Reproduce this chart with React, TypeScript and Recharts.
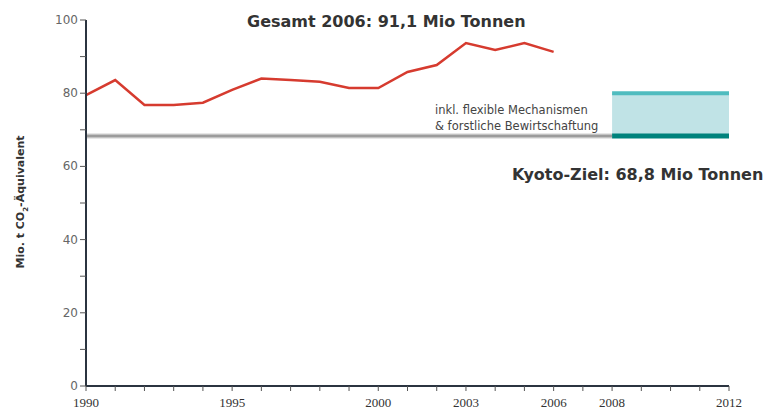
import React from 'react';
import { ComposedChart, Line, XAxis, YAxis, ReferenceLine, ReferenceArea } from 'recharts';

// Treibhausgas-Emissionen in Mio. t CO2-Äquivalent
const years = [1990, 1991, 1992, 1993, 1994, 1995, 1996, 1997, 1998, 1999, 2000, 2001, 2002, 2003, 2004, 2005, 2006];
const emissions = [79.5, 83.6, 76.8, 76.8, 77.4, 80.9, 84.0, 83.6, 83.1, 81.4, 81.4, 85.8, 87.7, 93.7, 91.8, 93.7, 91.3];

const yearTicks = [1990, 1991, 1992, 1993, 1994, 1995, 1996, 1997, 1998, 1999, 2000, 2001, 2002, 2003, 2004, 2005, 2006, 2007, 2008, 2009, 2010, 2011, 2012];
const labeledYears = [1990, 1995, 2000, 2003, 2006, 2008, 2012];
const valueTicks = [0, 10, 20, 30, 40, 50, 60, 70, 80, 90, 100];
const labeledValues = [0, 20, 40, 60, 80, 100];

const kyotoTarget = 68.3; // as drawn (label says 68,8)
const flexibleUpper = 80;
const kyotoPeriod = [2008, 2012];
const baselineYears = [1990, 2008];

const data = years.map((year, i) => ({ year, value: emissions[i] }));

const YearTick = ({ x, y, payload }: any) => {
  if (!labeledYears.includes(payload.value)) return null;
  return (
    <text x={x} y={y} dy={14} textAnchor="middle" fontFamily="Liberation Serif" fontSize={13} fill="#333">
      {payload.value}
    </text>
  );
};

const ValueTick = ({ x, y, payload }: any) => {
  if (!labeledValues.includes(payload.value)) return null;
  return (
    <text x={x} y={y} dy={4} textAnchor="end" fontFamily="DejaVu Sans" fontSize={12} fill="#666">
      {payload.value}
    </text>
  );
};

const boldText: React.CSSProperties = {
  position: 'absolute',
  fontFamily: 'DejaVu Sans',
  fontWeight: 'bold',
  fontSize: 16,
  color: '#333',
  whiteSpace: 'nowrap',
};

const App: React.FC = () => {
  return (
    <div style={{ position: 'fixed', left: 0, top: 0, width: 776, height: 412, background: '#fff' }}>
      <ComposedChart width={776} height={412} data={data} margin={{ top: 20, right: 47, left: 36, bottom: 0 }}>
        <XAxis
          type="number"
          dataKey="year"
          domain={[1990, 2012]}
          ticks={yearTicks}
          interval={0}
          tick={<YearTick />}
          tickSize={5}
          tickLine={{ stroke: '#555' }}
          axisLine={{ stroke: '#2b3440', strokeWidth: 2 }}
          height={26}
        />
        <YAxis
          type="number"
          domain={[0, 100]}
          ticks={valueTicks}
          interval={0}
          tick={<ValueTick />}
          tickSize={6}
          tickLine={{ stroke: '#555' }}
          axisLine={{ stroke: '#2b3440', strokeWidth: 2 }}
          width={50}
        />
        <ReferenceArea
          x1={kyotoPeriod[0]}
          x2={kyotoPeriod[1]}
          y1={kyotoTarget}
          y2={flexibleUpper}
          fill="#c0e3e6"
          fillOpacity={1}
          stroke="none"
        />
        <ReferenceLine
          segment={[{ x: baselineYears[0], y: kyotoTarget }, { x: baselineYears[1], y: kyotoTarget }]}
          stroke="#d0d0d0"
          strokeWidth={5}
        />
        <ReferenceLine
          segment={[{ x: baselineYears[0], y: kyotoTarget }, { x: baselineYears[1], y: kyotoTarget }]}
          stroke="#9c9c9c"
          strokeWidth={2.5}
        />
        <ReferenceLine
          segment={[{ x: kyotoPeriod[0], y: flexibleUpper }, { x: kyotoPeriod[1], y: flexibleUpper }]}
          stroke="#4fbcbf"
          strokeWidth={4}
        />
        <ReferenceLine
          segment={[{ x: kyotoPeriod[0], y: kyotoTarget }, { x: kyotoPeriod[1], y: kyotoTarget }]}
          stroke="#00827c"
          strokeWidth={5}
        />
        <Line
          type="linear"
          dataKey="value"
          stroke="#d63b2f"
          strokeWidth={2.5}
          dot={false}
          isAnimationActive={false}
        />
      </ComposedChart>

      <div style={{ ...boldText, left: 247, top: 12 }}>Gesamt 2006: 91,1 Mio Tonnen</div>
      <div style={{ ...boldText, left: 512, top: 165 }}>Kyoto-Ziel: 68,8 Mio Tonnen</div>
      <div
        style={{
          position: 'absolute',
          left: 435,
          top: 102,
          fontFamily: 'DejaVu Sans',
          fontSize: 11.5,
          lineHeight: '16px',
          color: '#444',
          whiteSpace: 'nowrap',
        }}
      >
        inkl. flexible Mechanismen
        <br />
        &amp; forstliche Bewirtschaftung
      </div>
      <div
        style={{
          position: 'absolute',
          left: 22,
          top: 202,
          transform: 'translate(-50%, -50%) rotate(-90deg)',
          fontFamily: 'DejaVu Sans',
          fontWeight: 'bold',
          fontSize: 11,
          color: '#333',
          whiteSpace: 'nowrap',
        }}
      >
        Mio. t CO<sub style={{ fontSize: 7 }}>2</sub>-Äquivalent
      </div>
    </div>
  );
};

export default App;
